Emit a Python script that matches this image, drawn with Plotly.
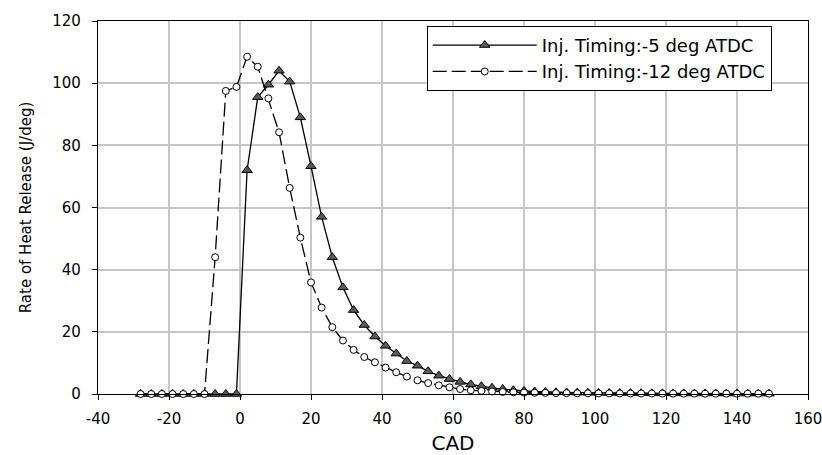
import plotly.graph_objects as go

# Crank angle (deg), common to both series
cad = [-28 + 3 * i for i in range(60)]

# Inj. Timing -5 deg ATDC (triangles)
rhr_m5 = [0, 0, 0, 0, 0, 0, 0, 0, 0, 0,
          72.0, 95.5, 99.5, 104.0, 100.5, 89.0, 73.3, 57.0, 44.0, 34.3,
          27.0, 22.2, 18.5, 15.5, 13.0, 10.6, 9.1, 7.3, 5.9, 4.8,
          3.9, 3.1, 2.5, 2.0, 1.6, 1.2, 1.0, 0.8, 0.65, 0.55,
          0.5, 0.45, 0.4, 0.35, 0.32, 0.3, 0.28, 0.25, 0.23, 0.2,
          0.2, 0.18, 0.17, 0.16, 0.15, 0.14, 0.13, 0.12, 0.12, 0.1]

# Inj. Timing -12 deg ATDC (circles)
rhr_m12 = [0, 0, 0, 0, 0, 0, 0, 44.0, 97.5, 98.8,
           108.5, 105.3, 95.1, 84.2, 66.3, 50.3, 35.9, 27.8, 21.5, 17.2,
           14.2, 11.9, 10.2, 8.5, 7.0, 5.6, 4.4, 3.5, 2.8, 2.15,
           1.6, 1.2, 1.0, 0.8, 0.65, 0.55, 0.45, 0.4, 0.35, 0.3,
           0.28, 0.25, 0.23, 0.2, 0.2, 0.18, 0.17, 0.16, 0.15, 0.14,
           0.13, 0.12, 0.12, 0.11, 0.1, 0.1, 0.1, 0.1, 0.1, 0.1]

names = ["Inj. Timing:-5 deg ATDC", "Inj. Timing:-12 deg ATDC"]
x_ticks = list(range(-40, 161, 20))
y_ticks = list(range(0, 121, 20))

FONT = "DejaVu Sans"

fig = go.Figure()
fig.add_trace(go.Scatter(
    x=cad, y=rhr_m5, name=names[0], mode="lines+markers",
    line=dict(color="black", width=1.3),
    marker=dict(symbol="triangle-up", size=9, color="#5a5a5a",
                line=dict(color="black", width=1)),
    cliponaxis=False))
fig.add_trace(go.Scatter(
    x=cad, y=rhr_m12, name=names[1], mode="lines+markers",
    line=dict(color="black", width=1.3, dash="14px,5px"),
    marker=dict(symbol="circle", size=7, color="white",
                line=dict(color="black", width=1)),
    cliponaxis=False))

fig.update_layout(
    width=822, height=455,
    margin=dict(l=98, r=14, t=21, b=61, autoexpand=False),
    paper_bgcolor="white", plot_bgcolor="white",
    font=dict(family=FONT, size=15, color="black"),
    legend=dict(x=0.463, y=0.987, xanchor="left", yanchor="top",
                bgcolor="white", bordercolor="black", borderwidth=1,
                font=dict(family=FONT, size=18, color="black"),
                itemwidth=104, tracegroupgap=0),
    showlegend=True,
)
fig.update_xaxes(
    range=[-40, 160], tickvals=x_ticks, ticktext=[str(v) for v in x_ticks],
    showgrid=True, gridcolor="#c6c6c6", gridwidth=1.5,
    showline=True, linecolor="black", linewidth=1.3, mirror=True,
    ticks="outside", ticklen=5, tickcolor="black", tickwidth=1.2,
    zeroline=False, ticklabelstandoff=6, ticklabeloverflow="allow",
    automargin=False,
    title=dict(text="CAD", font=dict(family=FONT, size=20), standoff=8),
)
fig.update_yaxes(
    range=[0, 120], tickvals=y_ticks, ticktext=[str(v) for v in y_ticks],
    showgrid=True, gridcolor="#c6c6c6", gridwidth=1.5,
    showline=True, linecolor="black", linewidth=1.3, mirror=True,
    ticks="outside", ticklen=5, tickcolor="black", tickwidth=1.2,
    zeroline=False, ticklabelstandoff=8, automargin=False,
    title=dict(text="Rate of Heat Release (J/deg)",
               font=dict(family=FONT, size=15), standoff=16),
)

fig.write_html("out.html")
